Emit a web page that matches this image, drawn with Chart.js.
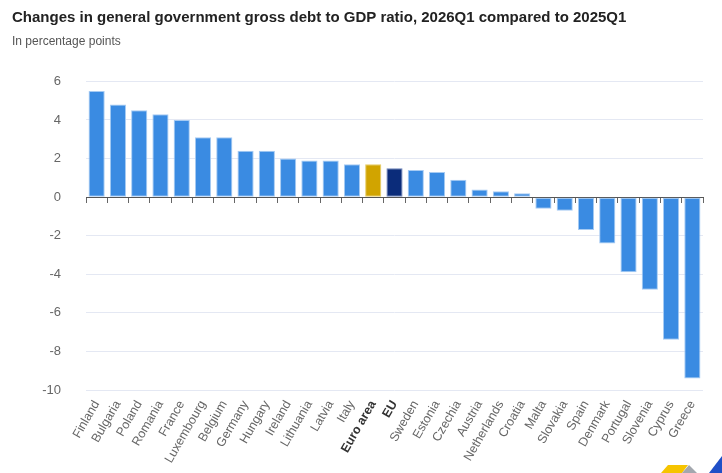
<!DOCTYPE html>
<html>
<head>
<meta charset="utf-8">
<script src="https://cdn.jsdelivr.net/npm/chart.js@4.4.1/dist/chart.umd.min.js"></script>
<style>
  html, body { margin: 0; padding: 0; background: #fff; }
  #wrap { width: 722px; height: 473px; position: relative; }
</style>
</head>
<body>
<div id="wrap"><canvas id="debtChart" width="722" height="473"></canvas></div>
<script>
// Data
const countries = ["Finland","Bulgaria","Poland","Romania","France","Luxembourg","Belgium","Germany",
  "Hungary","Ireland","Lithuania","Latvia","Italy","Euro area","EU","Sweden","Estonia","Czechia",
  "Austria","Netherlands","Croatia","Malta","Slovakia","Spain","Denmark","Portugal","Slovenia","Cyprus","Greece"];
const debtChange = [5.5, 4.8, 4.5, 4.3, 4.0, 3.1, 3.1, 2.4, 2.4, 2.0, 1.9, 1.9, 1.7, 1.7, 1.5, 1.4, 1.3, 0.9,
  0.4, 0.3, 0.2, -0.6, -0.7, -1.7, -2.4, -3.9, -4.8, -7.4, -9.4];
const yTicks = [6, 4, 2, 0, -2, -4, -6, -8, -10];

const aggregates = ["Euro area", "EU"];
const barColors = countries.map(c => c === "Euro area" ? "#d1a400" : c === "EU" ? "#0b2c7a" : "#3a8be2");
const edgeColors = countries.map(c => c === "Euro area" ? "#e6cc66" : c === "EU" ? "#6d84bb" : "#a6cbf3");

// corner mark, bottom right
const cornerLogo = {
  id: "cornerLogo",
  afterDraw(chart) {
    const ctx = chart.ctx;
    ctx.save();
    ctx.fillStyle = "#f6c400";
    ctx.beginPath();
    ctx.moveTo(661, 473); ctx.lineTo(668, 465); ctx.lineTo(688, 465); ctx.lineTo(682, 473); ctx.closePath();
    ctx.fill();
    ctx.fillStyle = "#a3a7ae";
    ctx.beginPath();
    ctx.moveTo(682, 473); ctx.lineTo(689, 465); ctx.lineTo(697, 473); ctx.closePath();
    ctx.fill();
    ctx.fillStyle = "#1f4fc7";
    ctx.beginPath();
    ctx.moveTo(709, 473); ctx.lineTo(722, 456); ctx.lineTo(722, 473); ctx.closePath();
    ctx.fill();
    ctx.restore();
  }
};

const ctx = document.getElementById("debtChart").getContext("2d");
new Chart(ctx, {
  type: "bar",
  data: {
    labels: countries,
    datasets: [{
      data: debtChange,
      backgroundColor: barColors,
      borderColor: edgeColors,
      borderWidth: 1,
      borderSkipped: false,
      barPercentage: 0.76,
      categoryPercentage: 1.0,
      xAxisID: "x"
    }]
  },
  options: {
    responsive: false,
    animation: false,
    layout: { padding: { top: 9, left: 12, right: 19, bottom: 0 } },
    plugins: {
      legend: { display: false },
      tooltip: { enabled: false },
      title: {
        display: true,
        text: "Changes in general government gross debt to GDP ratio, 2026Q1 compared to 2025Q1",
        align: "start",
        color: "#222",
        font: { family: "'Liberation Sans', Arial, sans-serif", size: 15, weight: "bold" },
        padding: { top: 0, bottom: 7 }
      },
      subtitle: {
        display: true,
        text: "In percentage points",
        align: "start",
        color: "#555",
        font: { family: "'Liberation Sans', Arial, sans-serif", size: 12 },
        padding: { top: 0, bottom: 33 }
      }
    },
    scales: {
      y: {
        min: -10,
        max: 6,
        afterBuildTicks: s => { s.ticks = yTicks.map(v => ({ value: v })); },
        afterFit: s => { s.width = 74; },
        grid: { color: "#e4e8f3", drawTicks: false },
        border: { display: false },
        ticks: {
          padding: 25,
          color: "#666",
          font: { family: "'Liberation Sans', Arial, sans-serif", size: 13 }
        }
      },
      x: {
        position: "bottom",
        afterFit: s => { s.height = 83; },
        grid: { display: false },
        border: { display: false },
        ticks: {
          autoSkip: false,
          maxRotation: 60,
          minRotation: 60,
          padding: 0,
          color: c => aggregates.includes(countries[c.index]) ? "#333" : "#666",
          font: c => ({
            family: "'Liberation Sans', Arial, sans-serif",
            size: 12.5,
            weight: aggregates.includes(countries[c.index]) ? "bold" : "normal"
          })
        }
      },
      xZero: {
        type: "category",
        labels: countries,
        position: { y: 0 },
        offset: true,
        grid: { offset: true, drawOnChartArea: false, drawTicks: true, tickLength: 5, color: "#666" },
        border: { display: true, color: "#555", width: 1 },
        ticks: { display: false }
      }
    }
  },
  plugins: [cornerLogo]
});
</script>
</body>
</html>
